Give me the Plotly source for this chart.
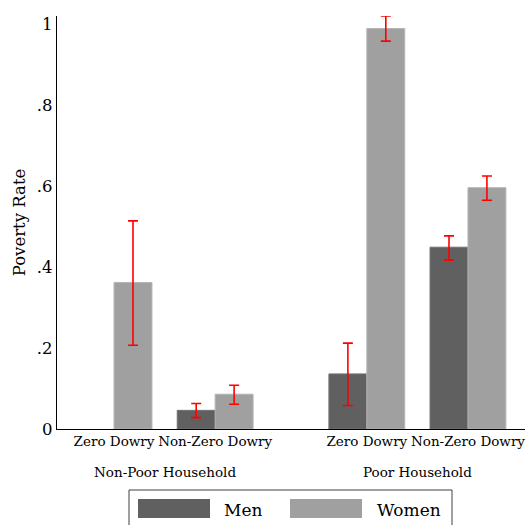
import plotly.graph_objects as go

# Categories and group positions on a numeric x axis (wider gap between households)
categories = ["Zero Dowry", "Non-Zero Dowry", "Zero Dowry", "Non-Zero Dowry"]
positions = [0, 1, 2.5, 3.5]
groups = ["Non-Poor Household", "Poor Household"]
group_centers = [0.5, 3.0]

# Poverty rates with 95% confidence bounds
men_rate = [None, 0.046, 0.136, 0.449]
men_lo = [None, 0.028, 0.058, 0.417]
men_hi = [None, 0.063, 0.212, 0.477]

women_rate = [0.362, 0.086, 0.989, 0.596]
women_lo = [0.207, 0.061, 0.958, 0.565]
women_hi = [0.514, 0.108, 1.020, 0.625]

series_names = ["Men", "Women"]
series_colors = ["#606060", "#a0a0a0"]

y_ticks = [0, 0.2, 0.4, 0.6, 0.8, 1.0]
y_ticktext = ["0", ".2", ".4", ".6", ".8", "1"]

FONT = "DejaVu Serif"
W, H = 528, 525
ML, MR, MT, MB = 57, 3, 16, 96


def err_plus(rate, hi):
    return [None if r is None else h - r for r, h in zip(rate, hi)]


def err_minus(rate, lo):
    return [None if r is None else r - l for r, l in zip(rate, lo)]


def px(x):
    return (x - ML) / (W - ML - MR)


def py(y):
    return (H - MB - y) / (H - MT - MB)


fig = go.Figure()
for name, color, rate, lo, hi, edge in [
    (series_names[0], series_colors[0], men_rate, men_lo, men_hi, "#707070"),
    (series_names[1], series_colors[1], women_rate, women_lo, women_hi, "#b4b4b4"),
]:
    fig.add_trace(go.Bar(
        name=name,
        x=positions,
        y=rate,
        marker=dict(color=color, line=dict(color=edge, width=1)),
        error_y=dict(
            type="data", symmetric=False,
            array=err_plus(rate, hi), arrayminus=err_minus(rate, lo),
            color="#ff0000", thickness=1.6, width=5,
        ),
        showlegend=False,
    ))

# group labels beneath the category ticks
for g, c in zip(groups, group_centers):
    fig.add_annotation(
        x=c, xref="x", y=py(472), yref="paper", text=g, showarrow=False,
        font=dict(family=FONT, size=13.5, color="black"), yanchor="middle",
    )

# legend box with wide swatches
fig.add_shape(type="rect", xref="paper", yref="paper",
              x0=px(129), x1=px(452), y0=py(490), y1=py(545),
              line=dict(color="#404040", width=1), fillcolor="white")
legend_layout = [(138, 210, 222), (290, 362, 375)]
for (sx0, sx1, tx), name, color in zip(legend_layout, series_names, series_colors):
    fig.add_shape(type="rect", xref="paper", yref="paper",
                  x0=px(sx0), x1=px(sx1), y0=py(499), y1=py(518),
                  line=dict(width=0), fillcolor=color)
    fig.add_annotation(x=px(tx), y=py(510), xref="paper", yref="paper",
                       text=name, showarrow=False, xanchor="left", yanchor="middle",
                       font=dict(family=FONT, size=17, color="black"))

fig.update_layout(
    width=W, height=H,
    margin=dict(l=ML, r=MR, t=MT, b=MB),
    paper_bgcolor="white", plot_bgcolor="white",
    barmode="group", bargap=0.25, bargroupgap=0,
    font=dict(family=FONT, color="black"),
    xaxis=dict(
        range=[-0.564, 4.064], tickmode="array", tickvals=positions,
        ticktext=categories, showgrid=False, zeroline=False,
        showline=True, linecolor="black", linewidth=1.2,
        ticks="", tickfont=dict(family=FONT, size=13.5, color="black"),
        fixedrange=True,
    ),
    yaxis=dict(
        range=[0, 1.02], tickmode="array", tickvals=y_ticks, ticktext=y_ticktext,
        showgrid=False, zeroline=False, showline=True, linecolor="black",
        linewidth=1.2, ticks="", tickfont=dict(family=FONT, size=16.5, color="black"),
        title=dict(text="Poverty Rate", font=dict(family=FONT, size=16.5, color="black"),
                   standoff=7),
        automargin=False, fixedrange=True,
    ),
)

fig.write_html("out.html")
